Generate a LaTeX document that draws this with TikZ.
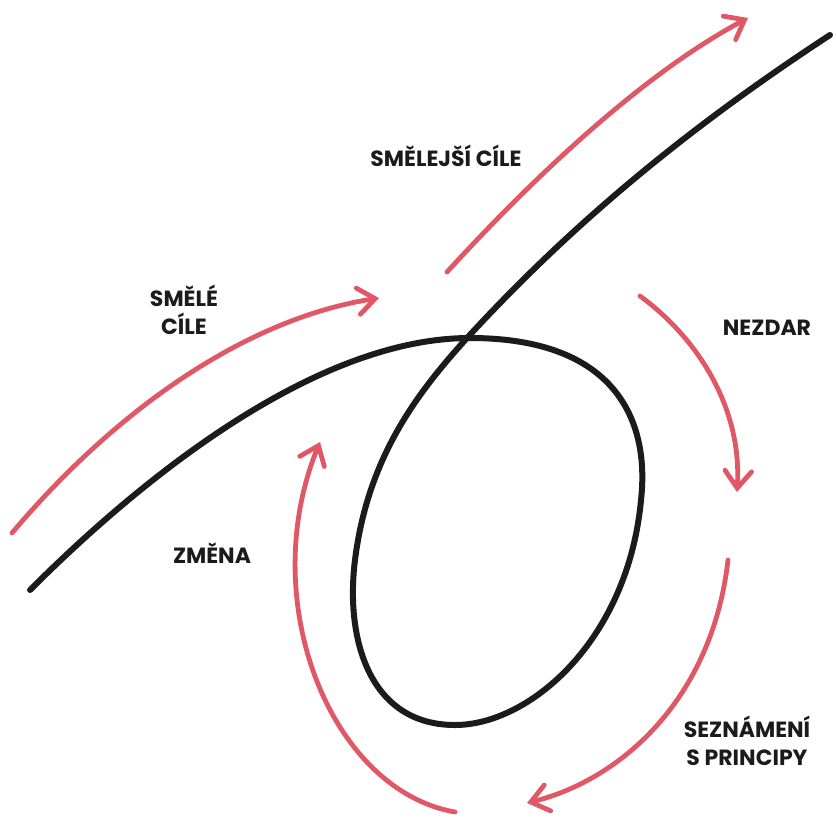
\documentclass[tikz,border=0pt]{standalone}
\usepackage{fontspec}
\setmainfont{Poppins}
\usepackage{xcolor}
\usetikzlibrary{arrows.meta}

\definecolor{cyclered}{HTML}{E05865}
\definecolor{pathblack}{HTML}{1C1A1B}

\begin{document}
\begin{tikzpicture}[
    x=0.75pt, y=-0.75pt,
    font=\bfseries\fontsize{16.5}{21}\selectfont,
    lbl/.style  = {text=pathblack, align=center, inner sep=0pt},
    road/.style = {draw=pathblack, line width=4.5pt, line cap=round},
    arr/.style  = {draw=cyclered, line width=3.6pt, line cap=round,
                   -{Straight Barb[length=4.5mm, width=7mm, line cap=round]}},
]
\useasboundingbox (0,0) rectangle (836,819);

% ============ black path with loop ============
\draw[road] (30,590) .. controls (150,470) and (320,338) .. (470,338)
    .. controls (615,338) and (650,420) .. (641,500)
    .. controls (628,640) and (530,725) .. (455,725)
    .. controls (370,725) and (345,640) .. (355,560)
    .. controls (368,455) and (420,390) .. (467,338)
    .. controls (580,215) and (700,120) .. (830,35);

% ============ labels ============
\node[lbl] (bold)    at (184,310) {SMĚLÉ\\CÍLE};
\node[lbl] (bolder)  at (446,156) {SMĚLEJŠÍ CÍLE};
\node[lbl] (fail)    at (767,328) {NEZDAR};
\node[lbl] (learn)   at (747,741) {SEZNÁMENÍ\\S PRINCIPY};
\node[lbl] (change)  at (212,553) {ZMĚNA};

% ============ red arrows ============
\coordinate (a1s) at (12,533);   \coordinate (a1e) at (379,298);
\coordinate (a2s) at (447,272);  \coordinate (a2e) at (748,18);
\coordinate (a3s) at (640,296);  \coordinate (a3e) at (737,492);
\coordinate (a4s) at (728,560);  \coordinate (a4e) at (527,803);
\coordinate (a5s) at (455,812);  \coordinate (a5e) at (320,442);

\draw[arr] (a1s) .. controls (120,405) and (250,318) .. (a1e);
\draw[arr] (a2s) .. controls (545,165) and (650,70) .. (a2e);
\draw[arr] (a3s) .. controls (700,340) and (742,410) .. (a3e);
\draw[arr] (a4s) .. controls (712,700) and (620,780) .. (a4e);
\draw[arr] (a5s) .. controls (330,790) and (255,600) .. (a5e);

\end{tikzpicture}
\end{document}
